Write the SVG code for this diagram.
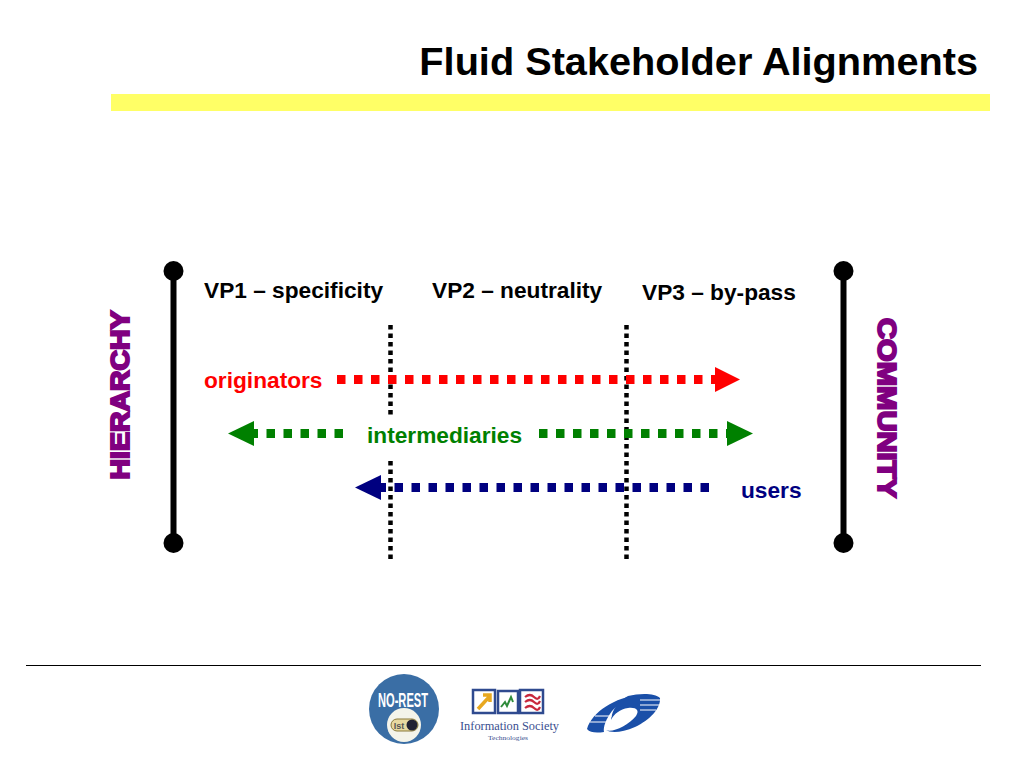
<svg xmlns="http://www.w3.org/2000/svg" width="1024" height="768" viewBox="0 0 1024 768">
<style>
text{font-family:"Liberation Sans",Arial,sans-serif;font-weight:bold}
.lab{font-size:22.7px}
.bar{stroke:#000;stroke-width:6;fill:none}
.vp{stroke:#000;stroke-width:4.5;stroke-dasharray:4.5 4;fill:none}
.dash{stroke-width:9;stroke-dasharray:8.5 8.5;fill:none}
.side{font-size:26px;fill:#800080;stroke:#800080;stroke-width:2}
</style>
<rect width="1024" height="768" fill="#fff"/>
<g id="header">
<text x="978" y="75" text-anchor="end" font-size="39.700" fill="#000">Fluid Stakeholder Alignments</text>
<rect x="111" y="94" width="879" height="17" fill="#ffff66"/>
</g>
<g id="footer-rule"><line x1="26" y1="665.5" x2="981" y2="665.5" stroke="#000" stroke-width="1"/></g>
<g id="hierarchy">
<line class="bar" x1="173.5" y1="271" x2="173.5" y2="543"/>
<circle cx="173.5" cy="271" r="10"/><circle cx="173.5" cy="543" r="10"/>
<text class="side" transform="translate(129,479.5) rotate(-90)" textLength="169" lengthAdjust="spacingAndGlyphs">HIERARCHY</text>
</g>
<g id="community">
<line class="bar" x1="843.5" y1="271" x2="843.5" y2="543"/>
<circle cx="843.5" cy="271" r="10"/><circle cx="843.5" cy="543" r="10"/>
<text class="side" transform="translate(877.5,318) rotate(90)" textLength="180" lengthAdjust="spacingAndGlyphs">COMMUNITY</text>
</g>
<g id="vp-labels" fill="#000">
<text class="lab" x="204" y="298">VP1 – specificity</text>
<text class="lab" x="432" y="298">VP2 – neutrality</text>
<text class="lab" x="642" y="300">VP3 – by-pass</text>
</g>
<g id="connectors">
<line class="vp" x1="390.5" y1="325" x2="390.5" y2="415"/>
<line class="vp" x1="390.5" y1="461" x2="390.5" y2="560"/>
<line class="vp" x1="626.5" y1="325" x2="626.5" y2="560"/>
<line class="dash" stroke="#ff0000" x1="337" y1="379.5" x2="716" y2="379.5"/>
<polygon fill="#ff0000" points="715,367 740,379.5 715,392"/>
<line class="dash" stroke="#008000" x1="343" y1="433.5" x2="254" y2="433.5"/>
<polygon fill="#008000" points="254,421 228,433.5 254,446"/>
<line class="dash" stroke="#008000" x1="539" y1="433.5" x2="727" y2="433.5"/>
<polygon fill="#008000" points="727,421 753,433.5 727,446"/>
<line class="dash" stroke="#000080" x1="709" y1="487.5" x2="381" y2="487.5"/>
<polygon fill="#000080" points="381,475 355,487.5 381,500"/>
</g>
<g id="actors">
<text class="lab" x="204" y="388" fill="#ff0000">originators</text>
<text class="lab" x="367" y="443" fill="#008000">intermediaries</text>
<text class="lab" x="741" y="498" fill="#000080">users</text>
</g>
<g id="logo-norest">
<circle cx="404" cy="709" r="35" fill="#3a6ea5"/>
<text x="403" y="707" text-anchor="middle" font-size="21" fill="#fff" textLength="50" lengthAdjust="spacingAndGlyphs">NO-REST</text>
<circle cx="404" cy="725" r="17" fill="#f4f4ea"/>
<rect x="391" y="719" width="27" height="12" rx="6" fill="#e8d9a0" stroke="#8a7a3a" stroke-width="1"/>
<circle cx="412" cy="725" r="5.5" fill="#223"/>
<text x="399" y="729" text-anchor="middle" font-size="9" fill="#555">Ist</text>
</g>
<g id="logo-ist">
<rect x="473" y="690" width="22" height="23" fill="#fff" stroke="#2f4a8f" stroke-width="2.5"/>
<rect x="498" y="691" width="20" height="22" fill="#fff" stroke="#2f4a8f" stroke-width="2.5"/>
<rect x="520" y="690" width="23" height="23" fill="#fff" stroke="#2f4a8f" stroke-width="2.5"/>
<path d="M478 709 L490 696 M483 695 H490 V702" stroke="#e8a820" stroke-width="3.5" fill="none"/>
<path d="M501 707 L505 702 L507 706 L511 697 L513 702" stroke="#2e8b3a" stroke-width="2" fill="none"/>
<path d="M525 697 Q530 693 534 697 T540 696 M525 702 Q530 698 534 702 T540 701 M525 708 Q530 704 534 708 T540 707" stroke="#c8283c" stroke-width="2.2" fill="none"/>
<text x="509.500" y="730" text-anchor="middle" font-size="13.500" fill="#3a4f8f" style="font-family:'Liberation Serif',serif;font-weight:normal" textLength="99" lengthAdjust="spacingAndGlyphs">Information Society</text>
<text x="508" y="740" text-anchor="middle" font-size="6.500" fill="#3a4f8f" style="font-family:'Liberation Serif',serif;font-weight:normal" textLength="40" lengthAdjust="spacingAndGlyphs">Technologies</text>
</g>
<g id="logo-fp6">
<path d="M587 729 C592 712 615 697 640 695 C632 698 620 702 612 711 C606 719 603 727 604 732 C597 733 590 733 587 729Z" fill="#1a4fa8"/>
<path d="M628 696 C640 693 655 693 660 698 C661 708 650 720 635 727 C622 733 610 733 606 730 C612 733 628 726 636 716 C640 710 636 707 628 708 C620 709 614 714 611 720 C612 708 620 700 628 696Z" fill="#1a4fa8"/>
<g stroke="#fff" stroke-width="1">
<line x1="590" y1="722" x2="610" y2="722"/><line x1="595" y1="716" x2="612" y2="716"/><line x1="640" y1="700" x2="660" y2="700"/><line x1="640" y1="705" x2="659" y2="705"/><line x1="640" y1="710" x2="656" y2="710"/>
</g>
</g>
</svg>
